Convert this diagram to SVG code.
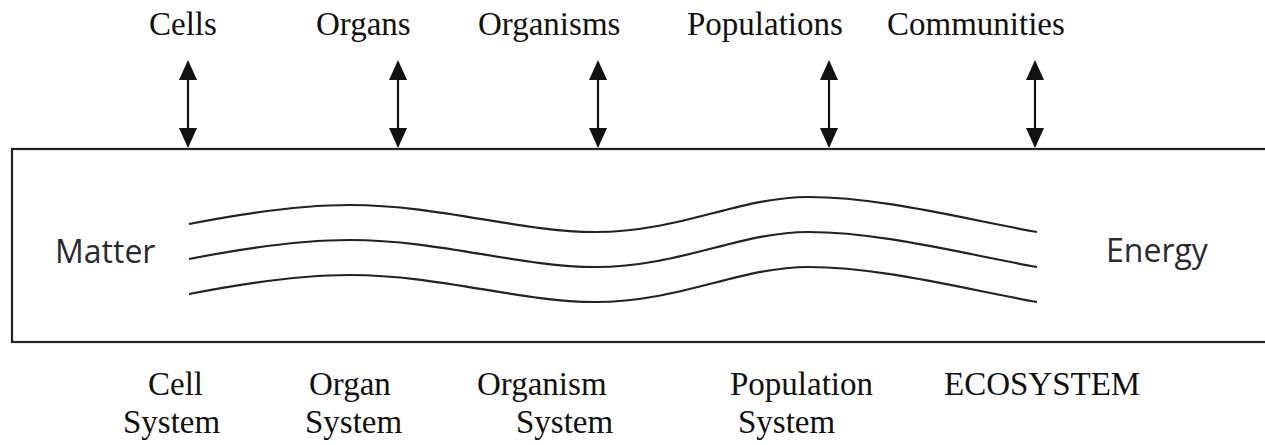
<svg xmlns="http://www.w3.org/2000/svg" width="1265" height="445" viewBox="0 0 1265 445">
<style>
.lbl{font-family:"Liberation Serif","Times New Roman",serif;font-size:33px;fill:#111}
.side{font-family:"Open Sans","Noto Sans",sans-serif;font-size:32px;fill:#2a2a33}
.box{fill:#fff;stroke:#222;stroke-width:2.2}
.wave{fill:none;stroke:#222;stroke-width:2.2}
.arr{stroke:#111;stroke-width:2.2;marker-start:url(#ah);marker-end:url(#ah)}
</style>
<defs>
<marker id="ah" viewBox="0 0 20 18" refX="2" refY="9" markerWidth="20" markerHeight="18" orient="auto-start-reverse" markerUnits="userSpaceOnUse">
<path d="M0,0 L20,9 L0,18 z" fill="#111"/>
</marker>
<path id="w" d="M189,224 C250,212 300,205 350,205 C440,205 520,232 595,232 C680,232 740,197 808,197 C880,197 960,218 1037,232"/>
</defs>
<rect width="1265" height="445" fill="#fff"/>
<g id="system-box">
<rect class="box" x="12" y="149" width="1260" height="193"/>
</g>
<g id="flow-lines">
<use href="#w" class="wave"/>
<use href="#w" class="wave" transform="translate(0,35)"/>
<use href="#w" class="wave" transform="translate(0,70)"/>
</g>
<g id="matter"><text class="side" x="55" y="263">Matter</text></g>
<g id="energy"><text class="side" x="1106" y="262">Energy</text></g>
<g id="cells"><text class="lbl" x="149" y="35">Cells</text></g>
<g id="organs"><text class="lbl" x="316" y="35">Organs</text></g>
<g id="organisms"><text class="lbl" x="478" y="35">Organisms</text></g>
<g id="populations"><text class="lbl" x="687" y="35">Populations</text></g>
<g id="communities"><text class="lbl" x="887" y="35">Communities</text></g>
<g id="cell-system"><text class="lbl" x="148" y="395">Cell</text><text class="lbl" x="123" y="433">System</text></g>
<g id="organ-system"><text class="lbl" x="309" y="395">Organ</text><text class="lbl" x="305" y="433">System</text></g>
<g id="organism-system"><text class="lbl" x="477" y="395">Organism</text><text class="lbl" x="516" y="433">System</text></g>
<g id="population-system"><text class="lbl" x="730" y="395">Population</text><text class="lbl" x="738" y="433">System</text></g>
<g id="ecosystem"><text class="lbl" x="944" y="395">ECOSYSTEM</text></g>
<g id="connectors">
<line class="arr" x1="188" y1="78" x2="188" y2="130"/>
<line class="arr" x1="398" y1="78" x2="398" y2="130"/>
<line class="arr" x1="598" y1="78" x2="598" y2="130"/>
<line class="arr" x1="829" y1="78" x2="829" y2="130"/>
<line class="arr" x1="1035" y1="78" x2="1035" y2="130"/>
</g>
</svg>
